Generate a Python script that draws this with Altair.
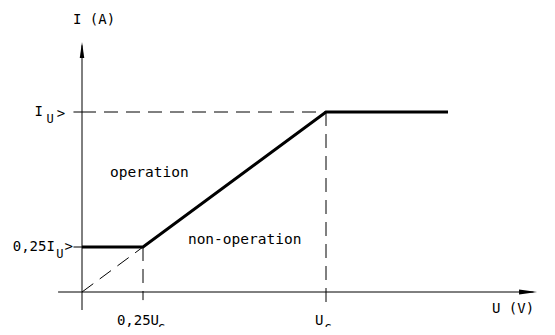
import altair as alt
import pandas as pd

FONT = "DejaVu Sans Mono"

# Operating characteristic: U in units of U_S, I in units of I_U>
char_u = [0.0, 0.25, 1.0, 1.5]
char_i = [0.25, 0.25, 1.0, 1.0]

# Construction (dashed) lines
dash_x1 = [0.0, 0.0, 1.0, 0.25]
dash_y1 = [0.0, 1.0, 1.0, 0.25]
dash_x2 = [0.25, 1.0, 1.0, 0.25]
dash_y2 = [0.25, 1.0, -0.06, -0.045]

# Axes and small ticks (solid thin)
axis_x1 = [-0.098, 0.0, -0.035, -0.035]
axis_y1 = [0.0, -0.10, 1.0, 0.25]
axis_x2 = [1.85, 0.0, 0.0, 0.0]
axis_y2 = [0.0, 1.37, 1.0, 0.25]

# Labels
lab_text = ["I (A)", "U (V)", "I", "U", ">", "0,25I", "U", ">",
            "0,25U", "S", "U", "S", "operation", "non-operation"]
lab_x = [-0.037, 1.680, -0.160, -0.146, -0.103, -0.111, -0.106, -0.072,
         0.143, 0.312, 0.955, 0.995, 0.115, 0.434]
lab_y = [1.511, -0.094, 1.0, 1.0, 1.0, 0.25, 0.25, 0.25,
         -0.161, -0.161, -0.161, -0.161, 0.661, 0.289]
lab_dy = [0, 0, 0, 7, 2, 0, 7, 0, 0, 8, 0, 8, 0, 0]
lab_size = [14, 14, 14, 12, 14, 14, 12, 14, 14, 12, 14, 12, 14.5, 14.5]
lab_align = ["left", "left", "right", "left", "left", "right", "left", "left",
             "left", "left", "left", "left", "left", "left"]

xs = alt.Scale(domain=[-0.3033, 1.9057], nice=False, zero=False)
ys = alt.Scale(domain=[-0.1944, 1.5778], nice=False, zero=False)

char_df = pd.DataFrame({"u": char_u, "i": char_i, "o": range(len(char_u))})
dash_df = pd.DataFrame({"x": dash_x1, "y": dash_y1, "x2": dash_x2, "y2": dash_y2})
axis_df = pd.DataFrame({"x": axis_x1, "y": axis_y1, "x2": axis_x2, "y2": axis_y2})
lab_df = pd.DataFrame({"t": lab_text, "x": lab_x, "y": lab_y, "dy": lab_dy,
                       "s": lab_size, "a": lab_align})

axes = alt.Chart(axis_df).mark_rule(color="black", strokeWidth=1).encode(
    x=alt.X("x:Q", scale=xs, axis=None),
    y=alt.Y("y:Q", scale=ys, axis=None),
    x2="x2:Q", y2="y2:Q",
)

dashes = alt.Chart(dash_df).mark_rule(color="black", strokeWidth=1,
                                      strokeDash=[14, 8]).encode(
    x=alt.X("x:Q", scale=xs, axis=None),
    y=alt.Y("y:Q", scale=ys, axis=None),
    x2="x2:Q", y2="y2:Q",
)

curve = alt.Chart(char_df).mark_line(color="black", strokeWidth=3,
                                     strokeJoin="miter").encode(
    x=alt.X("u:Q", scale=xs, axis=None),
    y=alt.Y("i:Q", scale=ys, axis=None),
    order="o:Q",
)

arrow_x = alt.Chart(pd.DataFrame({"x": [1.865], "y": [0.0]})).mark_point(
    shape="M0,0L-1,-0.14L-1,0.14Z", size=1296, filled=True,
    color="black", opacity=1, strokeWidth=0,
).encode(x=alt.X("x:Q", scale=xs, axis=None), y=alt.Y("y:Q", scale=ys, axis=None))

arrow_y = alt.Chart(pd.DataFrame({"x": [0.0], "y": [1.389]})).mark_point(
    shape="M0,0L-0.14,1L0.14,1Z", size=1024, filled=True,
    color="black", opacity=1, strokeWidth=0,
).encode(x=alt.X("x:Q", scale=xs, axis=None), y=alt.Y("y:Q", scale=ys, axis=None))

texts = []
for a in ["left", "right"]:
    for dy in sorted(set(lab_dy)):
        for s in sorted(set(lab_size)):
            sub = lab_df[(lab_df.a == a) & (lab_df.dy == dy) & (lab_df.s == s)]
            if len(sub) == 0:
                continue
            texts.append(
                alt.Chart(sub).mark_text(
                    font=FONT, fontSize=s, align=a, baseline="middle",
                    dy=dy, color="black",
                ).encode(
                    x=alt.X("x:Q", scale=xs, axis=None),
                    y=alt.Y("y:Q", scale=ys, axis=None),
                    text="t:N",
                )
            )

chart = alt.layer(axes, dashes, curve, arrow_x, arrow_y, *texts).properties(
    width=539, height=319,
    autosize=alt.AutoSizeParams(type="none"),
    padding=0,
).configure_view(stroke=None)

chart.save("out.html", embed_options={"renderer": "svg", "actions": False})
